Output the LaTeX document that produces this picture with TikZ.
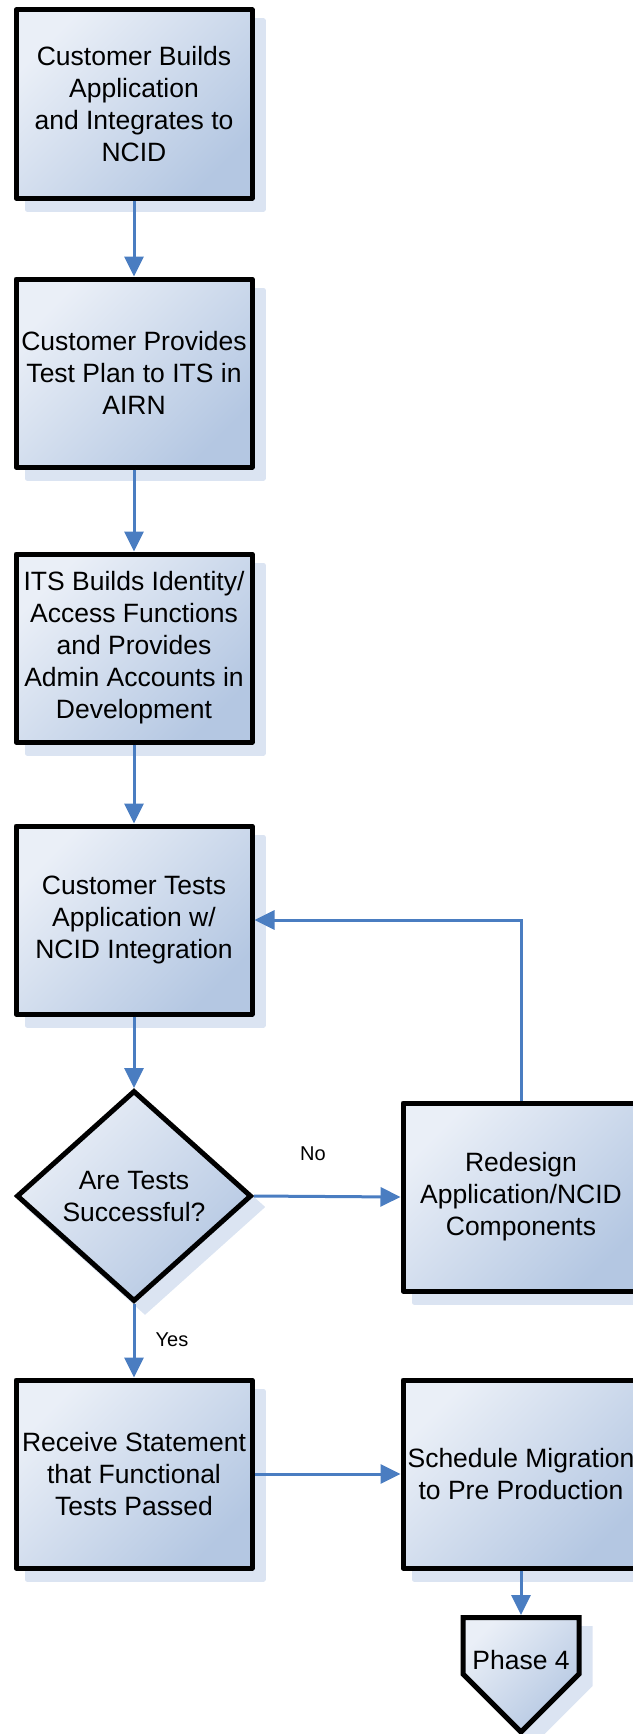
\documentclass[tikz,border=0pt]{standalone}
\usepackage{fontspec}
\setmainfont{Liberation Sans}
\usetikzlibrary{arrows.meta,shapes.geometric,shadows}
\definecolor{boxlight}{RGB}{234,239,247}
\definecolor{boxdark}{RGB}{180,199,226}
\definecolor{shadowblue}{RGB}{219,228,242}
\definecolor{flowblue}{RGB}{74,125,193}
\begin{document}
\begin{tikzpicture}[x=1pt,y=-1pt]
 \tikzset{boxtext/.style={inner sep=0pt, align=center, font=\fontsize{26.5}{32}\selectfont},
  boxed/.style={boxtext, draw=black, line width=5pt, line join=round, top color=boxlight, bottom color=boxdark, shading angle=45,
    drop shadow={shadow xshift=11pt, shadow yshift=-11pt, fill=shadowblue, draw=shadowblue, line width=5pt, opacity=1}},
  process/.style={boxed, rectangle, minimum width=236pt, minimum height=188pt},
  decision/.style={boxed, diamond, minimum width=235pt, minimum height=211pt, line join=miter},
  flow/.style={draw=flowblue, line width=3pt, -{Triangle[length=20pt,width=19pt]}},
  tag/.style={font=\fontsize{20}{24}\selectfont}}
  \useasboundingbox (0,0) rectangle (632,1734);
  \node[process] (B1) at (134,104) {Customer Builds\\Application\\and Integrates to\\NCID};
  \node[process] (B2) at (134,373) {Customer Provides\\Test Plan to ITS in\\AIRN};
  \node[process] (B3) at (134,648) {ITS Builds Identity/\\Access Functions\\and Provides\\Admin Accounts in\\Development};
  \node[process] (B4) at (134,920) {Customer Tests\\Application w/\\NCID Integration};
  \node[decision] (D1) at (134,1196) {Are Tests\\Successful?};
  \node[process] (R1) at (521,1197) {Redesign\\Application/NCID\\Components};
  \node[process] (B5) at (134,1474) {Receive Statement\\that Functional\\Tests Passed};
  \node[process] (M1) at (521,1474) {Schedule Migration\\to Pre Production};
  \path[boxed, line join=miter] (463,1617.5) -- (579,1617.5) -- (579,1674) -- (521,1732) -- (463,1674) -- cycle;
  \coordinate (P4top) at (521,1615);
  \node[boxtext] (P4) at (521,1660) {Phase 4};
  \node[tag] (no) at (313,1154) {No};
  \node[tag] (yes) at (172,1340) {Yes};
  \draw[flow] (B1) -- (B2);
  \draw[flow] (B2) -- (B3);
  \draw[flow] (B3) -- (B4);
  \draw[flow] (B4) -- (D1);
  \draw[flow] (D1.east) -- (R1.west);
  \draw[flow] (R1.north) |- (B4.east);
  \draw[flow] (D1.south) -- (B5.north);
  \draw[flow] (B5.east) -- (M1.west);
  \draw[flow] (M1.south) -- (P4top);
\end{tikzpicture}
\end{document}
